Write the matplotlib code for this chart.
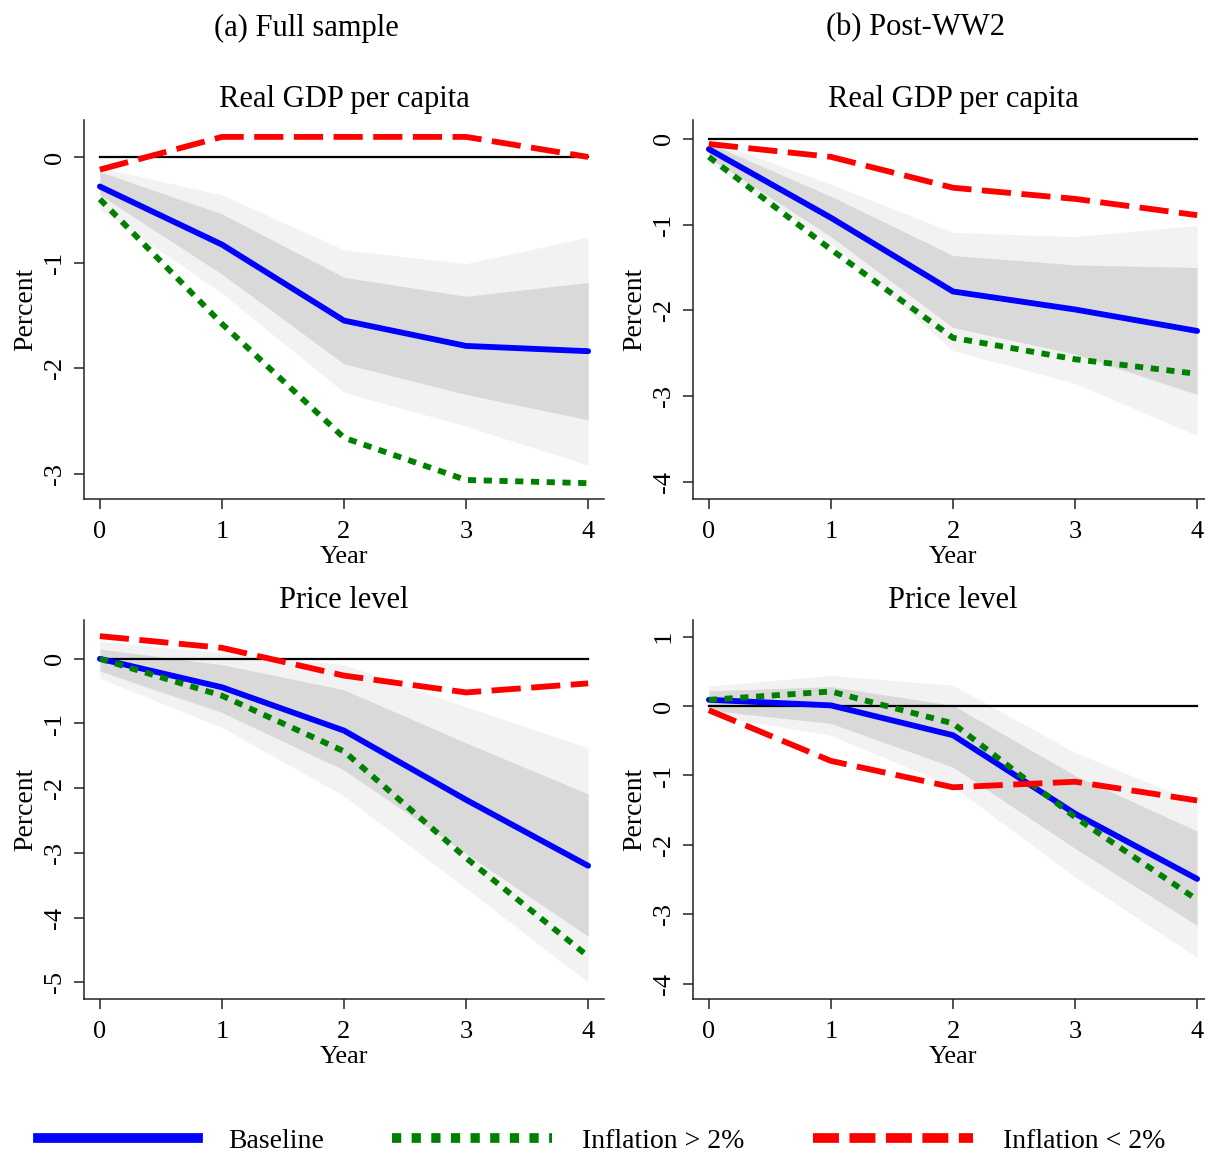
import numpy as np
import matplotlib
matplotlib.use('Agg')
import matplotlib.pyplot as plt
from matplotlib.lines import Line2D

plt.rcParams['font.family'] = ['Liberation Serif', 'DejaVu Serif']

# ── Data ────────────────────────────────────────────────────────────────────
years = [0, 1, 2, 3, 4]

# (a) full sample, real GDP per capita
gdp_full_base = [-0.28, -0.83, -1.55, -1.79, -1.84]
gdp_full_high = [-0.40, -1.58, -2.66, -3.06, -3.09]
gdp_full_low = [-0.12, 0.19, 0.19, 0.19, 0.0]
gdp_full_68_up = [-0.14, -0.54, -1.14, -1.32, -1.19]
gdp_full_68_lo = [-0.36, -1.11, -1.96, -2.25, -2.49]
gdp_full_90_up = [-0.10, -0.36, -0.88, -1.01, -0.76]
gdp_full_90_lo = [-0.50, -1.29, -2.23, -2.55, -2.92]

# (b) post-WW2, real GDP per capita
gdp_post_base = [-0.12, -0.92, -1.78, -1.99, -2.24]
gdp_post_high = [-0.21, -1.29, -2.32, -2.57, -2.74]
gdp_post_low = [-0.06, -0.21, -0.57, -0.70, -0.89]
gdp_post_68_up = [-0.05, -0.67, -1.36, -1.47, -1.50]
gdp_post_68_lo = [-0.22, -1.14, -2.20, -2.51, -2.98]
gdp_post_90_up = [-0.01, -0.53, -1.09, -1.14, -1.01]
gdp_post_90_lo = [-0.28, -1.22, -2.47, -2.85, -3.46]

# (a) full sample, price level
cpi_full_base = [0.0, -0.44, -1.11, -2.18, -3.20]
cpi_full_high = [0.0, -0.57, -1.43, -3.08, -4.60]
cpi_full_low = [0.35, 0.17, -0.26, -0.52, -0.38]
cpi_full_68_up = [0.15, -0.09, -0.48, -1.30, -2.09]
cpi_full_68_lo = [-0.19, -0.83, -1.72, -3.01, -4.29]
cpi_full_90_up = [0.27, 0.09, -0.09, -0.74, -1.38]
cpi_full_90_lo = [-0.30, -1.06, -2.12, -3.55, -5.00]

# (b) post-WW2, price level
cpi_post_base = [0.09, 0.01, -0.42, -1.55, -2.49]
cpi_post_high = [0.09, 0.21, -0.25, -1.60, -2.79]
cpi_post_low = [-0.06, -0.79, -1.17, -1.09, -1.36]
cpi_post_68_up = [0.22, 0.28, 0.01, -1.00, -1.80]
cpi_post_68_lo = [-0.06, -0.25, -0.88, -2.05, -3.16]
cpi_post_90_up = [0.29, 0.44, 0.30, -0.67, -1.39]
cpi_post_90_lo = [-0.13, -0.42, -1.16, -2.46, -3.62]

col_titles = ['(a) Full sample', '(b) Post-WW2']
row_titles = ['Real GDP per capita', 'Price level']
legend_labels = ['Baseline', 'Inflation > 2%', 'Inflation < 2%']

panels = [
    # (row, col, base, high, low, 68up, 68lo, 90up, 90lo, yticks, ylim)
    (0, 0, gdp_full_base, gdp_full_high, gdp_full_low, gdp_full_68_up, gdp_full_68_lo,
     gdp_full_90_up, gdp_full_90_lo, [0, -1, -2, -3], (-3.24, 0.35)),
    (0, 1, gdp_post_base, gdp_post_high, gdp_post_low, gdp_post_68_up, gdp_post_68_lo,
     gdp_post_90_up, gdp_post_90_lo, [0, -1, -2, -3, -4], (-4.20, 0.22)),
    (1, 0, cpi_full_base, cpi_full_high, cpi_full_low, cpi_full_68_up, cpi_full_68_lo,
     cpi_full_90_up, cpi_full_90_lo, [0, -1, -2, -3, -4, -5], (-5.26, 0.60)),
    (1, 1, cpi_post_base, cpi_post_high, cpi_post_low, cpi_post_68_up, cpi_post_68_lo,
     cpi_post_90_up, cpi_post_90_lo, [1, 0, -1, -2, -3, -4], (-4.22, 1.24)),
]

BLUE, GREEN, RED = '#0000ff', '#008000', '#ff0000'
LW = 4.2
GREEN_DASH = (1.4, 1.3)
RED_DASH = (5.0, 1.8)

W, H = 1205, 1153
fig = plt.figure(figsize=(W / 100, H / 100), dpi=100)

lefts = [84 / W, 693 / W]
bottoms = [1 - 499 / H, 1 - 999 / H]
aw, ah = 520 / W, 379 / H

for row, col, base, high, low, u68, l68, u90, l90, yt, yl in panels:
    ax = fig.add_axes([lefts[col], bottoms[row], aw, ah])
    ax.fill_between(years, l90, u90, color='#f2f2f2', lw=0, zorder=1)
    ax.fill_between(years, l68, u68, color='#d9d9d9', lw=0, zorder=2)
    ax.plot([years[0], years[-1]], [0, 0], color='black', lw=1.6, zorder=3)
    ax.plot(years, base, color=BLUE, lw=LW, solid_capstyle='round', zorder=4)
    ax.plot(years, high, color=GREEN, lw=LW, dashes=GREEN_DASH,
            dash_capstyle='butt', zorder=5)
    ax.plot(years, low, color=RED, lw=LW, dashes=RED_DASH,
            dash_capstyle='butt', zorder=6)

    ax.set_xlim(-0.13, 4.13)
    ax.set_ylim(*yl)
    ax.set_xticks(years)
    ax.set_yticks(yt)
    ax.set_yticklabels([str(v) for v in yt], rotation=90, va='center')
    for s in ['top', 'right']:
        ax.spines[s].set_visible(False)
    for s in ['left', 'bottom']:
        ax.spines[s].set_linewidth(1.1)
        ax.spines[s].set_color('#222222')
    ax.tick_params(axis='both', direction='out', length=7, width=1.1,
                   color='#222222', labelsize=19)
    ax.tick_params(axis='x', pad=9)
    ax.tick_params(axis='y', pad=6)
    ax.set_xlabel('Year', fontsize=19, labelpad=2)
    ax.set_ylabel('Percent', fontsize=20, labelpad=4)
    ax.set_title(row_titles[row], fontsize=22, pad=9)

fig.text(306 / W, 1 - 28 / H, col_titles[0], fontsize=22, ha='center', va='center')
fig.text(915 / W, 1 - 28 / H, col_titles[1], fontsize=22, ha='center', va='center')

handles = [
    Line2D([], [], color=BLUE, lw=7),
    Line2D([], [], color=GREEN, lw=7, dashes=(0.95, 1.07), dash_capstyle='butt'),
    Line2D([], [], color=RED, lw=7, dashes=(2.67, 1.08), dash_capstyle='butt'),
]
fig.legend(handles, legend_labels, loc='center left',
           bbox_to_anchor=(38 / W, 1 - 1141 / H), ncol=3, frameon=False,
           fontsize=20, handlelength=5.75, handletextpad=1.1, columnspacing=2.45,
           borderpad=0, borderaxespad=0)

fig.savefig('out.png', dpi=100)
